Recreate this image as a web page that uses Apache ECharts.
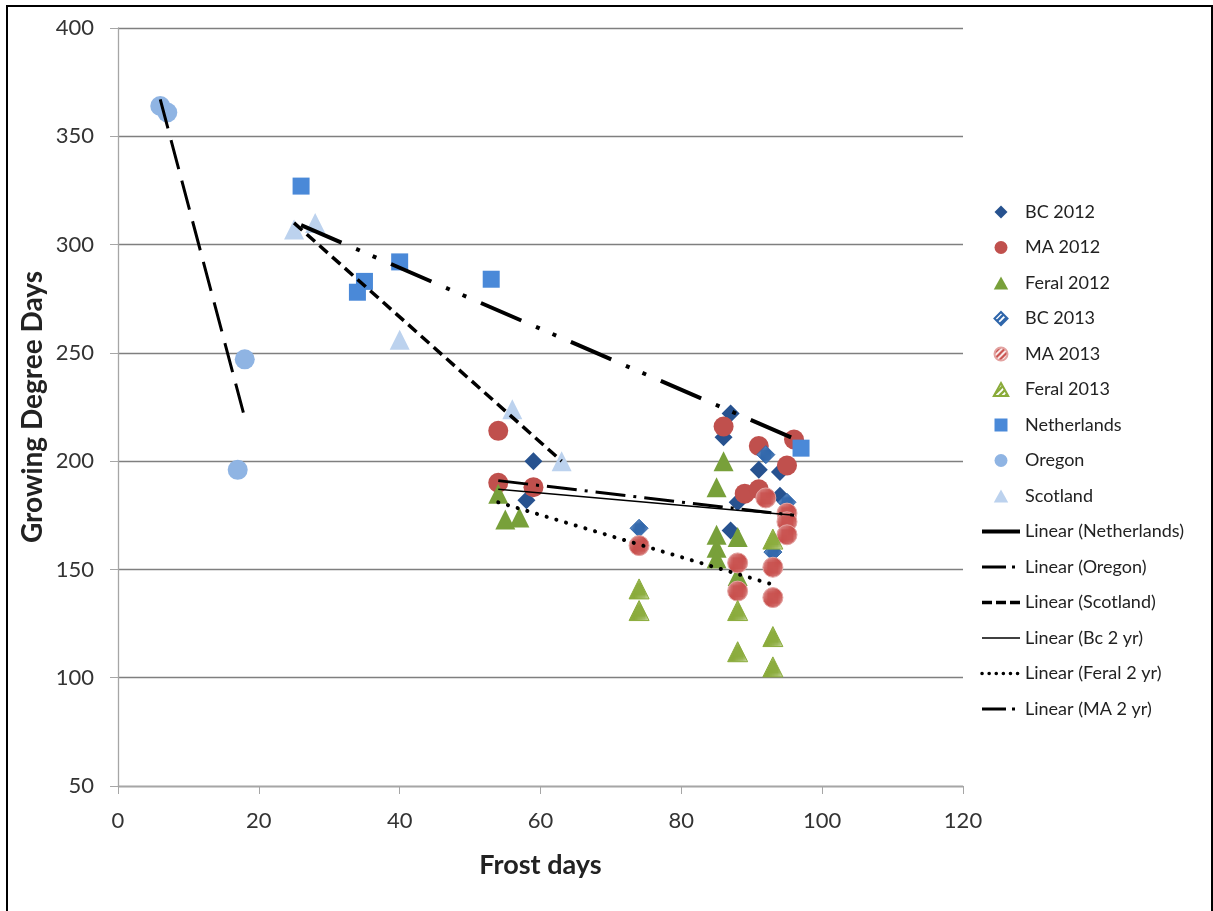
<!DOCTYPE html>
<html>
<head>
<meta charset="UTF-8">
<title>Growing Degree Days vs Frost days</title>
<script src="https://cdn.jsdelivr.net/npm/echarts@6/dist/echarts.min.js"></script>
<style>
  html, body { margin: 0; padding: 0; background: #fff; }
  #main { width: 1213px; height: 911px; }
</style>
</head>
<body>
<div id="main"></div>
<script>
// points: [frost days, growing degree days]
var bc2012 = [[59, 200], [58, 182], [87, 222], [86, 211], [91, 196], [94, 195], [88, 181], [94, 184], [87, 168]];
var ma2012 = [[54, 214], [54, 190], [59, 188], [86, 216], [91, 207], [96, 210], [95, 198], [89, 185], [91, 187]];
var feral2012 = [[54, 185], [55, 173], [57, 174], [86, 200], [85, 188], [85, 166], [85, 160], [85, 155], [88, 165], [88, 147]];
var bc2013 = [[74, 169], [92, 203], [95, 181], [93, 158]];
var ma2013 = [[74, 161], [92, 183], [95, 176], [95, 172], [95, 166], [88, 153], [93, 151], [88, 140], [93, 137]];
var feral2013 = [[74, 141], [74, 131], [93, 164], [88, 131], [93, 119], [88, 112], [93, 105]];
var netherlands = [[26, 327], [34, 278], [35, 283], [40, 292], [53, 284], [97, 206]];
var oregon = [[6, 364], [7, 361], [18, 247], [17, 196]];
var scotland = [[25, 307], [28, 310], [40, 256], [56, 224], [63, 200]];

// trendline end points, also
var nlTrend = [[26, 309], [97, 209]];
var orTrend = [[6, 367], [18, 220]];
var scTrend = [[25, 310], [63, 200]];
var bcTrend = [[54, 187], [96, 175]];
var feTrend = [[54, 181], [93, 143]];
var maTrend = [[54, 191], [96, 175]];

var xTicks = [0, 20, 40, 60, 80, 100, 120];
var yTicks = [50, 100, 150, 200, 250, 300, 350, 400];

// diagonal stripe fill for the 2013 series
function stripes(color) {
    var p = 6;
    var c = document.createElement('canvas');
    c.width = p; c.height = p;
    var ctx = c.getContext('2d');
    ctx.fillStyle = '#fff';
    ctx.fillRect(0, 0, p, p);
    ctx.strokeStyle = color;
    ctx.lineWidth = 2.3;
    [0, p, 2 * p].forEach(function (k) {
        ctx.beginPath();
        ctx.moveTo(k - p - 1, p + 1);
        ctx.lineTo(k + 1, -1);
        ctx.stroke();
    });
    return { image: c, repeat: 'repeat' };
}

var font = 'Lato, "Open Sans", sans-serif';
var clear = 'rgba(0,0,0,0)';

// legend icons as paths so they keep their aspect
var iconDiamond = 'path://M10,0L20,10L10,20L0,10Z';
var iconTriangle = 'path://M10,0L20,18L0,18Z';
var iconSquare = 'path://M0,0L20,0L20,20L0,20Z';

function pts(name, data, symbol, size, color, border) {
    var s = {
        name: name,
        type: 'scatter',
        data: data,
        symbol: symbol,
        symbolSize: size,
        itemStyle: { color: color, opacity: 1 },
        z: 2
    };
    if (border) {
        s.itemStyle.borderColor = border;
        s.itemStyle.borderWidth = 1;
    }
    return s;
}

function trend(name, data, width, type) {
    return {
        name: name,
        type: 'line',
        data: data,
        symbol: 'none',
        itemStyle: { color: clear, borderColor: clear, borderWidth: 0 },
        lineStyle: { color: '#000', width: width, type: type, cap: 'butt' },
        z: 5,
        silent: true
    };
}

var chart = echarts.init(document.getElementById('main'));

var feralLine = trend('Linear (Feral 2 yr)', feTrend, 4, [0.1, 10]);
feralLine.lineStyle.cap = 'round';

chart.setOption({
    animation: false,
    backgroundColor: '#fff',
    grid: { left: 118, right: 250, top: 28, bottom: 125 },
    xAxis: {
        type: 'value',
        min: xTicks[0],
        max: xTicks[xTicks.length - 1],
        interval: 20,
        name: 'Frost days',
        nameLocation: 'middle',
        nameGap: 66,
        nameTextStyle: { fontFamily: font, fontSize: 27, fontWeight: 'bold', color: '#222' },
        axisLine: { show: true, onZero: false, lineStyle: { color: '#a6a6a6', width: 1.3 } },
        axisTick: { show: true, length: 8, lineStyle: { color: '#a6a6a6' } },
        axisLabel: { fontFamily: font, fontSize: 22, color: '#333', margin: 24 },
        splitLine: { show: false }
    },
    yAxis: {
        type: 'value',
        min: yTicks[0],
        max: yTicks[yTicks.length - 1],
        interval: 50,
        axisLine: { show: true, onZero: false, lineStyle: { color: '#a6a6a6', width: 1.3 } },
        axisTick: { show: true, length: 8, lineStyle: { color: '#a6a6a6' } },
        axisLabel: { fontFamily: font, fontSize: 22, color: '#333', margin: 24 },
        splitLine: { show: true, lineStyle: { color: '#7f7f7f', width: 1.4 } }
    },
    legend: {
        orient: 'vertical',
        left: 975,
        top: 197,
        itemWidth: 38,
        itemHeight: 13,
        itemGap: 15.5,
        symbolKeepAspect: true,
        textStyle: { fontFamily: font, fontSize: 18, color: '#222', lineHeight: 20 },
        data: [
            { name: 'BC 2012', icon: iconDiamond },
            { name: 'MA 2012', icon: 'circle' },
            { name: 'Feral 2012', icon: iconTriangle },
            { name: 'BC 2013', icon: iconDiamond },
            { name: 'MA 2013', icon: 'circle' },
            { name: 'Feral 2013', icon: iconTriangle },
            { name: 'Netherlands', icon: iconSquare },
            { name: 'Oregon', icon: 'circle' },
            { name: 'Scotland', icon: iconTriangle },
            { name: 'Linear (Netherlands)', lineStyle: { type: 'solid', width: 4 } },
            { name: 'Linear (Oregon)', lineStyle: { type: [24, 6, 3, 6], width: 3 } },
            { name: 'Linear (Scotland)', lineStyle: { type: [10, 4], width: 3.5 } },
            { name: 'Linear (Bc 2 yr)', lineStyle: { width: 1.6 } },
            { name: 'Linear (Feral 2 yr)', lineStyle: { type: [0.1, 7], width: 3.5, cap: 'round' } },
            { name: 'Linear (MA 2 yr)', lineStyle: { type: [24, 6, 3, 6], width: 3 } }
        ]
    },
    graphic: [
        {
            type: 'rect',
            shape: { x: 7, y: 6, width: 1205, height: 930 },
            style: { fill: 'none', stroke: '#000', lineWidth: 2 },
            silent: true,
            z: -1
        },
        {
            type: 'text',
            x: 33,
            y: 407,
            rotation: Math.PI / 2,
            style: {
                text: 'Growing Degree Days',
                fontFamily: font,
                fontSize: 28,
                fontWeight: 'bold',
                fill: '#222',
                align: 'center',
                verticalAlign: 'middle'
            }
        }
    ],
    series: [
        pts('BC 2012', bc2012, 'diamond', 18, '#27528f'),
        pts('MA 2012', ma2012, 'circle', 20, '#c0504d'),
        pts('Feral 2012', feral2012, 'triangle', 20, '#78a03a'),
        pts('BC 2013', bc2013, 'diamond', 18, stripes('#2f66ab'), '#2f66ab'),
        pts('MA 2013', ma2013, 'circle', 20, stripes('#c9504d'), '#e3a3a1'),
        pts('Feral 2013', feral2013, 'triangle', 20, stripes('#8aab3a'), '#8aab3a'),
        pts('Netherlands', netherlands, 'rect', 17, '#4a89d8'),
        pts('Oregon', oregon, 'circle', 20, '#8fb4e3'),
        pts('Scotland', scotland, 'triangle', 20, '#bcd2ee'),
        trend('Linear (Netherlands)', nlTrend, 4, [44, 16, 4, 14, 4, 16]),
        trend('Linear (Oregon)', orTrend, 3, [30, 12]),
        trend('Linear (Scotland)', scTrend, 3.5, [11, 6]),
        trend('Linear (Bc 2 yr)', bcTrend, 1.6, 'solid'),
        feralLine,
        trend('Linear (MA 2 yr)', maTrend, 3, [30, 8, 3, 8])
    ]
});
</script>
</body>
</html>
